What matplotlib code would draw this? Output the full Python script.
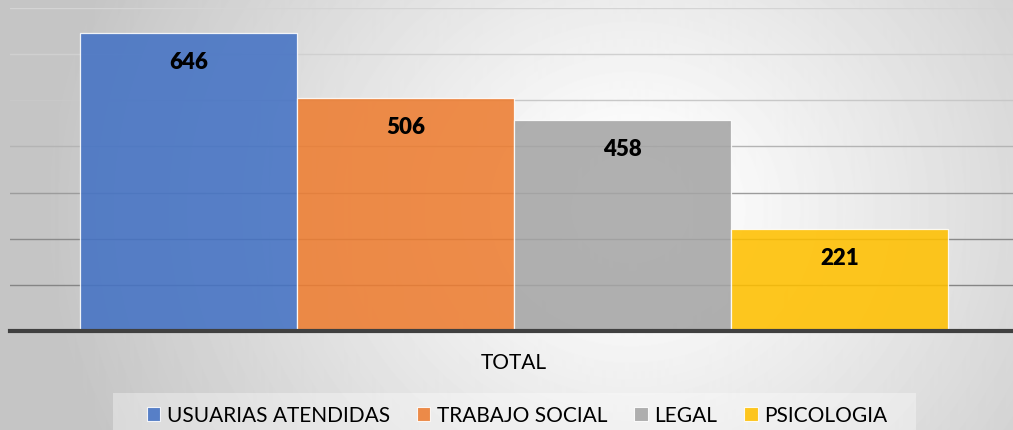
import numpy as np
import matplotlib.pyplot as plt
from matplotlib.patches import Patch, Rectangle

plt.rcParams['font.family'] = ['Lato', 'DejaVu Sans']

# datos
categorias = ['USUARIAS ATENDIDAS', 'TRABAJO SOCIAL', 'LEGAL', 'PSICOLOGIA']
valores = [646, 506, 458, 221]
colores = ['#4472C4', '#ED7D31', '#A5A5A5', '#FFC000']
grupo = 'TOTAL'

W, H = 1013, 431
fig = plt.figure(figsize=(W / 100, H / 100), dpi=100)

# fondo con degradado radial
bg = fig.add_axes([0, 0, 1, 1], zorder=-10)
yy, xx = np.mgrid[0:H, 0:W]
r = np.hypot(xx - 630, (yy - 210) * 1.1)
v = 1 - 0.23 * np.clip((r - 50) / 540, 0, 1)
bg.imshow(v, cmap='gray', vmin=0, vmax=1, aspect='auto', extent=[0, 1, 0, 1])
bg.axis('off')

ax = fig.add_axes([10 / W, 1 - 331.7 / H, 1 - 10 / W, (331.7 - 9.3) / H])
ax.set_facecolor('none')

x = np.arange(len(valores)) - (len(valores) - 1) / 2
ax.bar(x, valores, width=1.0, color=colores, alpha=0.88,
       edgecolor=(1, 1, 1, 0.55), linewidth=0.9, zorder=2)

for xi, vi in zip(x, valores):
    ax.annotate(f'{vi}', (xi, vi), xytext=(0, -20.5), textcoords='offset points',
                ha='center', va='center', fontsize=16, fontweight='heavy', color='black', zorder=4)

ax.set_ylim(0, 700)
ax.set_xlim(-2.323, 2.300)
ax.set_yticks(range(100, 701, 100))
ax.tick_params(axis='y', left=False, labelleft=False)
grid_cols = ['#858585', '#8a8a8a', '#9c9c9c', '#b4b4b4', '#c8c8c8', '#d0d0d0', '#d4d4d4']
for yv, c in zip(range(100, 701, 100), grid_cols):
    ax.axhline(yv, color=c, lw=1.0, zorder=1)

ax.set_xticks([0])
ax.set_xticklabels([grupo], fontsize=15)
ax.tick_params(axis='x', length=0, pad=15.5)

for s in ['left', 'right', 'top']:
    ax.spines[s].set_visible(False)
ax.spines['bottom'].set_color('#404040')
ax.spines['bottom'].set_linewidth(3)
ax.spines['bottom'].set_zorder(5)

# caja de la leyenda
fig.patches.append(Rectangle((113 / W, 0), (916 - 113) / W, (H - 394) / H,
                             transform=fig.transFigure, facecolor='white',
                             alpha=0.35, edgecolor='none', zorder=0))
handles = [Patch(facecolor=c, edgecolor=(1, 1, 1, 0.7), linewidth=0.8, alpha=0.88) for c in colores]
fig.legend(handles, categorias, loc='center', bbox_to_anchor=(517 / W, 1 - 416 / H),
           ncol=4, frameon=False, fontsize=15, handlelength=0.65, handleheight=0.65,
           handletextpad=0.3, columnspacing=1.3)

fig.savefig('out.png', dpi=100)
